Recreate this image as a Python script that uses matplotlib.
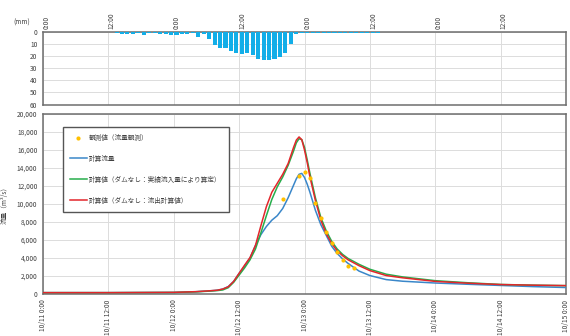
import matplotlib
matplotlib.use("Agg")
import matplotlib.pyplot as plt
from matplotlib.ticker import FixedLocator, FuncFormatter, NullFormatter

plt.rcParams['font.family'] = ['Noto Sans CJK JP', 'DejaVu Sans']

# ---------------- data ----------------
rain_hours = list(range(96))
rain_mm = [0.3, 0.3, 0.3, 0.3, 0.3, 0.3, 0.3, 0.3, 0.3, 0.3, 0.3, 0.3, 0.3, 0.5,
           1.7, 1.4, 1.4, 0.8, 2.5, 1.0, 1.0, 1.7, 1.7, 2.5, 2.5, 1.7, 1.7, 1.0,
           4.0, 1.5, 5.5, 10.5, 13.5, 13.5, 15.5, 17.5, 18.5, 17.0, 19.0, 22.0,
           23.0, 23.0, 22.0, 21.0, 17.5, 10.0, 2.0, 0.8,
           0.5, 0.5, 0.5, 0.5, 0.5, 0.5, 0.5, 0.5, 0.5, 0.5, 0.5, 0.5, 0.5, 0.5,
           0, 0, 0, 0, 0, 0, 0, 0, 0, 0, 0, 0, 0, 0, 0, 0, 0, 0, 0, 0, 0, 0,
           0, 0, 0, 0, 0, 0, 0, 0, 0, 0, 0, 0]

obs_hours = [44, 47, 48, 49, 50, 51, 52, 53, 54, 55, 56, 57]
obs_flow = [10600, 13100, 13600, 12900, 10100, 8500, 6900, 5700, 4700, 3750, 3100, 2900]

blue_hours = [0, 12, 24, 28, 30, 32, 33, 34, 35, 36, 37, 38, 39, 40, 41, 42, 43, 44, 45,
              46, 46.5, 47, 47.5, 48, 48.5, 49, 50, 51, 52, 53, 54, 55, 56, 58, 60, 63, 66,
              72, 78, 84, 90, 96]
blue_flow = [150, 150, 170, 250, 320, 420, 550, 820, 1400, 2300, 3100, 4000, 5400, 6600,
             7500, 8200, 8700, 9500, 10700, 12100, 12800, 13300, 13400, 12950, 12200, 11300,
             9300, 7700, 6500, 5300, 4500, 3900, 3400, 2550, 2050, 1600, 1420, 1220, 1080,
             950, 820, 720]

green_hours = [0, 12, 24, 28, 30, 32, 33, 34, 35, 36, 37, 38, 39, 40, 41, 42, 43, 44, 45,
               46, 46.5, 47, 47.5, 48, 48.5, 49, 50, 51, 52, 53, 54, 55, 56, 58, 60, 63, 66,
               72, 78, 84, 90, 96]
green_flow = [150, 150, 170, 240, 300, 380, 450, 700, 1300, 2100, 2900, 3800, 5000, 6800,
              8700, 10500, 11900, 13000, 14300, 15900, 16800, 17250, 17150, 16300, 14900,
              13400, 10700, 8500, 7000, 5850, 5000, 4400, 3950, 3300, 2750, 2200, 1900, 1480,
              1250, 1060, 980, 930]

red_hours = [0, 12, 24, 28, 30, 32, 33, 34, 35, 36, 37, 38, 39, 40, 41, 42, 43, 44, 45,
             46, 46.5, 47, 47.5, 48, 48.5, 49, 50, 51, 52, 53, 54, 55, 56, 58, 60, 63, 66,
             72, 78, 84, 90, 96]
red_flow = [150, 150, 180, 260, 330, 420, 550, 800, 1400, 2300, 3200, 4050, 5400, 7600,
            9700, 11300, 12300, 13300, 14500, 16300, 17100, 17450, 17150, 16000, 14600,
            13000, 10400, 8200, 6700, 5600, 4800, 4250, 3800, 3150, 2600, 2050, 1800, 1400,
            1200, 1050, 980, 930]

top_tick_labels = ['0:00', '12:00', '0:00', '12:00', '0:00', '12:00', '0:00', '12:00']
bottom_tick_labels = ['10/11 0:00', '10/11 12:00', '10/12 0:00', '10/12 12:00',
                      '10/13 0:00', '10/13 12:00', '10/14 0:00', '10/14 12:00', '10/15 0:00']
legend_labels = ['観測値（流量観測）', '計算流量',
                 '計算値（ダムなし：実績流入量により算定）', '計算値（ダムなし：流出計算値）']

# ---------------- styling ----------------
W, H = 570, 336
fig = plt.figure(figsize=(W / 100, H / 100), dpi=100)
frame_col = '#6e6e6e'
grid_col = '#dcdcdc'
txt_col = '#404040'
fs = 4.8

def fx(px):
    return px / W

def fy(py):
    return 1 - py / H

ax1 = fig.add_axes([fx(43), fy(104.5), fx(566) - fx(43), fy(32) - fy(104.5)])
ax2 = fig.add_axes([fx(43), fy(294), fx(566) - fx(43), fy(114) - fy(294)])

# ---- rainfall ----
ax1.bar([h + 0.5 for h in rain_hours], rain_mm, width=0.75, color='#12aee8', zorder=3)
ax1.set_xlim(0, 96)
ax1.set_ylim(60, 0)
ax1.yaxis.set_major_locator(FixedLocator(list(range(0, 61, 10))))
ax1.xaxis.set_major_locator(FixedLocator(list(range(0, 97, 12))))
ax1.xaxis.set_major_formatter(NullFormatter())
ax1.xaxis.set_minor_locator(FixedLocator([h + 0.6 for h in range(0, 96, 12)]))
ax1.xaxis.set_minor_formatter(FuncFormatter(lambda v, p: top_tick_labels[p] if p < len(top_tick_labels) else ''))
ax1.xaxis.tick_top()
ax1.tick_params(axis='x', which='both', length=0, labelsize=fs, labelcolor=txt_col, pad=2)
ax1.tick_params(axis='x', which='minor', labelrotation=90)
ax1.tick_params(axis='y', length=0, labelsize=fs, labelcolor=txt_col, pad=4)
ax1.grid(True, color=grid_col, lw=0.7, zorder=0)
for s in ax1.spines.values():
    s.set_color(frame_col)
    s.set_linewidth(1.1)
fig.text(fx(22), fy(23), '(mm)', fontsize=fs, color=txt_col, ha='center', va='center')

# ---- discharge ----
l_blue, = ax2.plot(blue_hours, blue_flow, color='#3a87c9', lw=1.1, zorder=3)
l_green, = ax2.plot(green_hours, green_flow, color='#27ae4c', lw=1.1, zorder=4)
l_red, = ax2.plot(red_hours, red_flow, color='#e3262b', lw=1.1, zorder=5)
l_obs = ax2.scatter(obs_hours, obs_flow, s=9, color='#ffc000', zorder=6, linewidths=0)

ax2.set_xlim(0, 96)
ax2.set_ylim(0, 20000)
ax2.yaxis.set_major_locator(FixedLocator(list(range(0, 20001, 2000))))
ax2.yaxis.set_major_formatter(FuncFormatter(lambda v, p: f'{int(v):,}'))
ax2.xaxis.set_major_locator(FixedLocator(list(range(0, 97, 12))))
ax2.set_xticklabels(bottom_tick_labels, rotation=90)
ax2.tick_params(axis='x', length=0, labelsize=fs, labelcolor=txt_col, pad=4)
ax2.tick_params(axis='y', length=0, labelsize=fs, labelcolor=txt_col, pad=4)
ax2.grid(True, color=grid_col, lw=0.7, zorder=0)
for s in ax2.spines.values():
    s.set_color(frame_col)
    s.set_linewidth(1.1)
ax2.set_ylabel('流量（m³/s）', fontsize=fs, color=txt_col, labelpad=6)

leg = ax2.legend([l_obs, l_blue, l_green, l_red], legend_labels,
                 loc='upper left', bbox_to_anchor=(0.038, 0.93),
                 fontsize=fs, frameon=True, fancybox=False, framealpha=1,
                 edgecolor='#555555', labelspacing=1.95, handlelength=2.5,
                 borderpad=1.05, borderaxespad=0, handletextpad=0.4,
                 scatterpoints=1, markerscale=1.0)
leg.get_frame().set_linewidth(1.0)
for t in leg.get_texts():
    t.set_color(txt_col)

fig.savefig('out.png', dpi=100)
